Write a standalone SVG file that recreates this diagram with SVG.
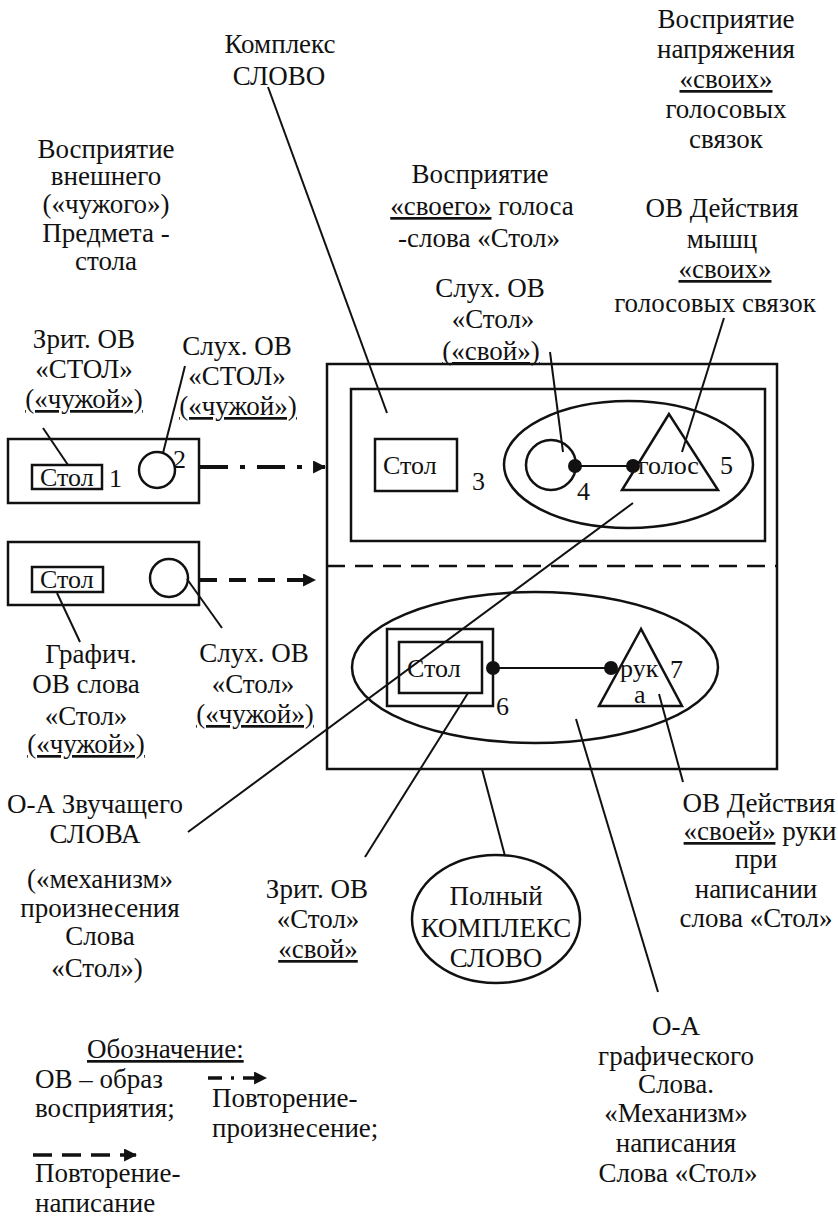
<svg xmlns="http://www.w3.org/2000/svg" width="838" height="1216" viewBox="0 0 838 1216">
<style>
text{font-family:'Liberation Serif','Times New Roman',serif;font-size:27px;fill:#111}
.c{text-anchor:middle}
.s{font-size:26px}
.box{fill:none;stroke:#111;stroke-width:2.5}
.ln{fill:none;stroke:#111;stroke-width:2}
.dot{fill:#111}
.u{text-decoration:underline}
</style>
<defs>
<marker id="ah" viewBox="0 0 12 12" refX="11" refY="6" markerWidth="13" markerHeight="13" markerUnits="userSpaceOnUse" orient="auto">
<path d="M0,0 L12,6 L0,12 Z" fill="#111"/>
</marker>
</defs>
<rect width="838" height="1216" fill="#fff"/>

<g id="labels-top">
<text class="c" x="280" y="53">Комплекс</text>
<text class="c" x="279" y="85">СЛОВО</text>
<text class="c" x="106" y="158">Восприятие</text>
<text class="c" x="106" y="185">внешнего</text>
<text class="c" x="106" y="213">(«чужого»)</text>
<text class="c" x="106" y="242">Предмета -</text>
<text class="c" x="106" y="270">стола</text>
<text class="c" x="480" y="183">Восприятие</text>
<text class="c" x="482" y="215"><tspan class="u">«своего»</tspan> голоса</text>
<text class="c" x="479" y="247">-слова «Стол»</text>
<text class="c" x="490" y="297">Слух. ОВ</text>
<text class="c" x="493" y="328">«Стол»</text>
<text class="c" x="491" y="360"><tspan class="u">(«свой»)</tspan></text>
<text class="c" x="726" y="28">Восприятие</text>
<text class="c" x="726" y="58">напряжения</text>
<text class="c" x="726" y="88"><tspan class="u">«своих»</tspan></text>
<text class="c" x="726" y="118">голосовых</text>
<text class="c" x="726" y="148">связок</text>
<text class="c" x="722" y="217">ОВ Действия</text>
<text class="c" x="722" y="248">мышц</text>
<text class="c" x="725" y="278"><tspan class="u">«своих»</tspan></text>
<text class="c" x="715" y="312">голосовых связок</text>
</g>

<g id="labels-left">
<text class="c" x="84" y="348">Зрит. ОВ</text>
<text class="c" x="84" y="378">«СТОЛ»</text>
<text class="c" x="84" y="408"><tspan class="u">(«чужой»)</tspan></text>
<text class="c" x="237" y="355">Слух. ОВ</text>
<text class="c" x="237" y="385">«СТОЛ»</text>
<text class="c" x="238" y="415"><tspan class="u">(«чужой»)</tspan></text>
<text class="c" x="91" y="663">Графич.</text>
<text class="c" x="86" y="693">ОВ слова</text>
<text class="c" x="86" y="725">«Стол»</text>
<text class="c" x="86" y="753"><tspan class="u">(«чужой»)</tspan></text>
<text class="c" x="254" y="662">Слух. ОВ</text>
<text class="c" x="253" y="693">«Стол»</text>
<text class="c" x="255" y="723"><tspan class="u">(«чужой»)</tspan></text>
</g>

<g id="labels-bottom">
<text class="c" x="95" y="813">О-А Звучащего</text>
<text class="c" x="95" y="843">СЛОВА</text>
<text class="c" x="100" y="888">(«механизм»</text>
<text class="c" x="100" y="917">произнесения</text>
<text class="c" x="100" y="945">Слова</text>
<text class="c" x="97" y="977">«Стол»)</text>
<text class="c" x="317" y="898">Зрит. ОВ</text>
<text class="c" x="318" y="928">«Стол»</text>
<text class="c" x="318" y="958"><tspan class="u">«свой»</tspan></text>
<text class="c" x="759" y="812">ОВ Действия</text>
<text class="c" x="760" y="840"><tspan class="u">«своей»</tspan> руки</text>
<text class="c" x="756" y="868">при</text>
<text class="c" x="756" y="898">написании</text>
<text class="c" x="756" y="927">слова «Стол»</text>
<text class="c" x="676" y="1035">О-А</text>
<text class="c" x="676" y="1065">графического</text>
<text class="c" x="676" y="1093">Слова.</text>
<text class="c" x="676" y="1122">«Механизм»</text>
<text class="c" x="676" y="1152">написания</text>
<text class="c" x="678" y="1182">Слова «Стол»</text>
</g>

<g id="node-box1">
<rect class="box" x="8" y="439" width="191" height="64"/>
<rect class="box" x="32" y="465" width="70" height="24"/>
<text class="s" x="40" y="486">Стол</text>
<text class="s" x="109" y="487">1</text>
<circle class="box" cx="157" cy="470" r="18"/>
<text class="s" x="173" y="468">2</text>
</g>

<g id="node-box2">
<rect class="box" x="8" y="542" width="191" height="63"/>
<rect class="box" x="32" y="567" width="71" height="25"/>
<text class="s" x="40" y="588">Стол</text>
<circle class="box" cx="169" cy="578" r="19"/>
</g>

<g id="node-main">
<rect class="box" x="327" y="364" width="450" height="405"/>
<line class="box" x1="327" y1="566" x2="777" y2="566" stroke-dasharray="18 10"/>
</g>

<g id="node-complex">
<rect class="box" x="351" y="389" width="414" height="152"/>
<rect class="box" x="375" y="439" width="82" height="52"/>
<text class="s" x="383" y="474">Стол</text>
<text class="s" x="472" y="490">3</text>
<ellipse class="box" cx="628.5" cy="464.5" rx="124.5" ry="63.5"/>
<circle class="box" cx="551" cy="465" r="25"/>
<text class="s" x="577" y="500">4</text>
<path class="box" d="M669,414 L622,490 L718,490 Z"/>
<text class="s" x="638" y="474">голос</text>
<text class="s" x="720" y="474">5</text>
</g>

<g id="node-write">
<ellipse class="box" cx="535" cy="667.5" rx="183" ry="75.5"/>
<rect class="box" x="387" y="629" width="106" height="77"/>
<rect class="box" x="399" y="642" width="83" height="51"/>
<text class="s" x="407" y="677">Стол</text>
<text class="s" x="496" y="715">6</text>
<path class="box" d="M641,629 L599,706 L682,706 Z"/>
<text class="s" x="620" y="677">рук</text>
<text class="s" x="634" y="703">а</text>
<text class="s" x="670" y="678">7</text>
</g>

<g id="node-full">
<ellipse class="box" cx="496" cy="919" rx="84" ry="64"/>
<text class="c" x="496" y="905">Полный</text>
<text class="c" x="496" y="937">КОМПЛЕКС</text>
<text class="c" x="496" y="967">СЛОВО</text>
</g>

<g id="legend">
<text x="87" y="1058"><tspan class="u">Обозначение:</tspan></text>
<text x="35" y="1088">ОВ – образ</text>
<text x="35" y="1117">восприятия;</text>
<text x="212" y="1107">Повторение-</text>
<text x="212" y="1137">произнесение;</text>
<text x="35" y="1182">Повторение-</text>
<text x="35" y="1212">написание</text>
<line x1="208" y1="1078" x2="266" y2="1078" stroke="#111" stroke-width="3.5" stroke-dasharray="14 9 3 9" marker-end="url(#ah)"/>
<line x1="33" y1="1155" x2="136" y2="1155" stroke="#111" stroke-width="3.5" stroke-dasharray="19 10" marker-end="url(#ah)"/>
</g>

<g id="connectors">
<line x1="200" y1="467" x2="325" y2="467" stroke="#111" stroke-width="4" stroke-dasharray="28 12 5 12" marker-end="url(#ah)"/>
<line x1="200" y1="580" x2="315" y2="580" stroke="#111" stroke-width="4" stroke-dasharray="17 12" marker-end="url(#ah)"/>
<line class="ln" x1="575" y1="466" x2="633" y2="466"/>
<circle class="dot" cx="575" cy="466" r="7"/>
<circle class="dot" cx="633" cy="466" r="7"/>
<line class="ln" x1="493" y1="668" x2="611" y2="668"/>
<circle class="dot" cx="493" cy="668" r="7"/>
<circle class="dot" cx="611" cy="668" r="7"/>
<line class="ln" x1="268" y1="87" x2="387" y2="413"/>
<line class="ln" x1="550" y1="352" x2="563" y2="452"/>
<line class="ln" x1="724" y1="318" x2="682" y2="452"/>
<line class="ln" x1="633" y1="503" x2="188" y2="832"/>
<line class="ln" x1="468" y1="693" x2="365" y2="857"/>
<line class="ln" x1="482" y1="769" x2="505" y2="856"/>
<line class="ln" x1="576" y1="719" x2="658" y2="992"/>
<line class="ln" x1="659" y1="694" x2="683" y2="782"/>
<line class="ln" x1="43" y1="428" x2="68" y2="465"/>
<line class="ln" x1="185" y1="366" x2="163" y2="453"/>
<line class="ln" x1="57" y1="593" x2="80" y2="642"/>
<line class="ln" x1="187" y1="579" x2="222" y2="628"/>
</g>
</svg>
